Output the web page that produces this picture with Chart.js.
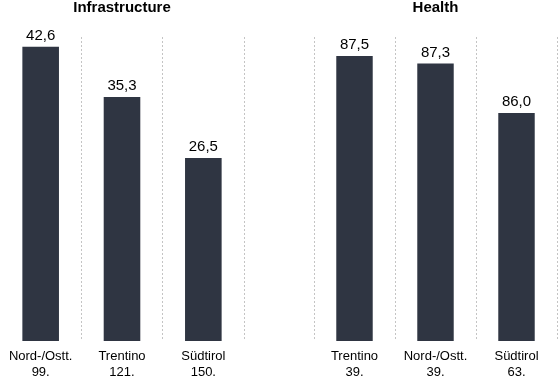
<!DOCTYPE html>
<html>
<head>
<meta charset="utf-8">
<script src="https://cdn.jsdelivr.net/npm/chart.js@4/dist/chart.umd.min.js"></script>
<style>
  html, body { margin: 0; padding: 0; background: #fff; }
  body { width: 559px; height: 377px; position: relative; overflow: hidden; }
  canvas { position: absolute; top: 0; }
  #c1 { left: 0; }
  #c2 { left: 300px; }
</style>
</head>
<body>
<canvas id="c1" width="260" height="387"></canvas>
<canvas id="c2" width="259" height="387"></canvas>
<script>
// ---- data ----
const infraTitle = "Infrastructure";
const infraCategories = ["Nord-/Ostt.", "Trentino", "Südtirol"];
const infraRanks = ["99.", "121.", "150."];
const infraValues = [42.6, 35.3, 26.5];

const healthTitle = "Health";
const healthCategories = ["Trentino", "Nord-/Ostt.", "Südtirol"];
const healthRanks = ["39.", "39.", "63."];
const healthValues = [87.5, 87.3, 86.0];

const FONT = "'Liberation Sans', Arial, Helvetica, sans-serif";
const BAR = "#2f3542";

const overlay = {
  id: "overlay",
  afterDatasetsDraw(chart, args, opts) {
    const ctx = chart.ctx;
    const area = chart.chartArea;
    ctx.save();
    // title
    ctx.fillStyle = "#000";
    ctx.font = "bold 15px " + FONT;
    ctx.textAlign = "center";
    ctx.textBaseline = "alphabetic";
    ctx.fillText(opts.title, (area.left + area.right) / 2, 12);
    // value labels
    ctx.font = "15px " + FONT;
    const meta = chart.getDatasetMeta(0);
    meta.data.forEach((bar, i) => {
      const v = chart.data.datasets[0].data[i];
      ctx.fillText(v.toFixed(1).replace(".", ","), bar.x, bar.y - 7);
    });
    ctx.restore();
  }
};

function makeChart(id, cats, ranks, values, min, max, title, padRight, padLeft) {
  return new Chart(document.getElementById(id), {
    type: "bar",
    data: {
      labels: cats.map((c, i) => [c, ranks[i]]),
      datasets: [{
        data: values,
        backgroundColor: BAR,
        borderWidth: 0,
        categoryPercentage: 1,
        barPercentage: 0.45
      }]
    },
    options: {
      responsive: false,
      animation: false,
      devicePixelRatio: 1,
      layout: { padding: { top: 37, bottom: 0, left: padLeft, right: padRight } },
      plugins: {
        legend: { display: false },
        tooltip: { enabled: false },
        title: { display: false },
        overlay: { title: title }
      },
      scales: {
        x: {
          offset: true,
          grid: {
            display: true,
            offset: true,
            drawTicks: false,
            color: "#c4c4c4",
            lineWidth: 1
          },
          border: { display: false, dash: [2, 2] },
          ticks: {
            color: "#000",
            padding: 7,
            maxRotation: 0,
            autoSkip: false,
            font: { family: FONT, size: 13, lineHeight: 1.23 }
          }
        },
        y: {
          display: false,
          min: min,
          max: max
        }
      }
    },
    plugins: [overlay]
  });
}

makeChart("c1", infraCategories, infraRanks, infraValues, 0, 44, infraTitle, 16, 0);
makeChart("c2", healthCategories, healthRanks, healthValues, 80, 88, healthTitle, 2, 14);
</script>
</body>
</html>
